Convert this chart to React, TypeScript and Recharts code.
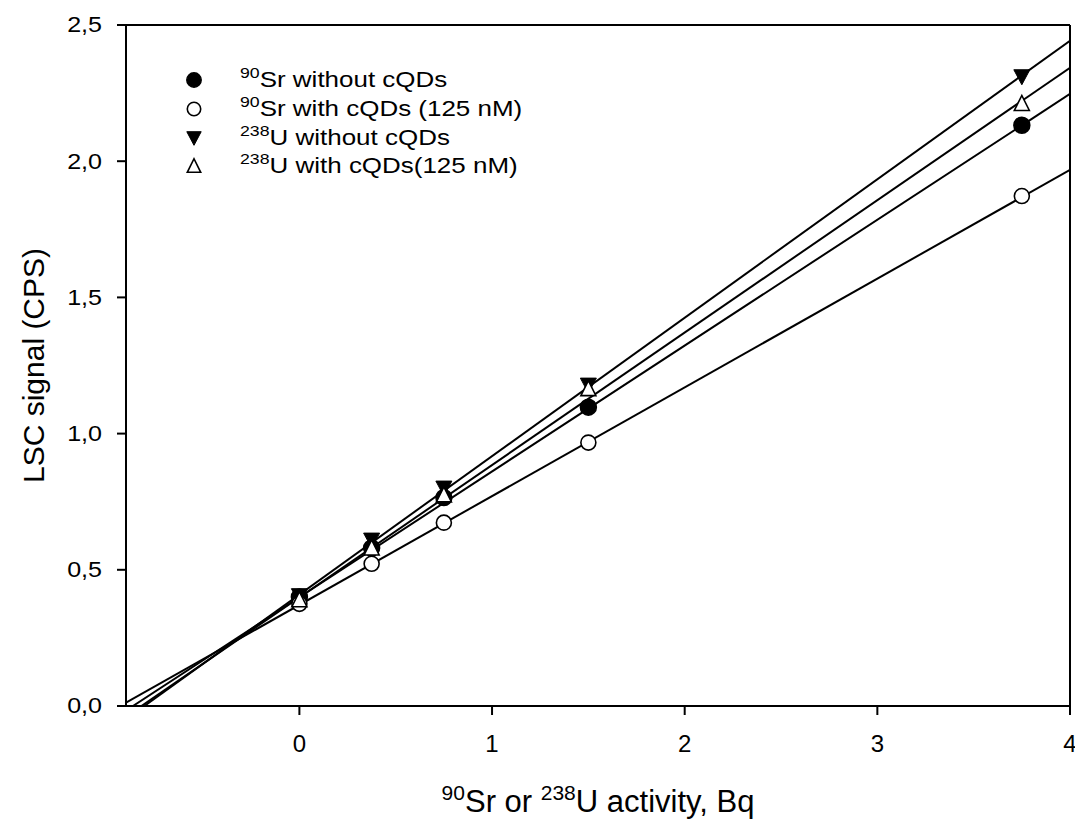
import React from "react";
import {
  ScatterChart,
  Scatter,
  XAxis,
  YAxis,
  ReferenceLine,
} from "recharts";

const FONT = "'Liberation Sans', Arial, sans-serif";

// Activities (Bq)
const activities = [0, 0.375, 0.75, 1.5, 3.75];
// LSC signal (CPS)
const srWithout = [0.4, 0.58, 0.765, 1.097, 2.132];
const srWith = [0.375, 0.522, 0.673, 0.967, 1.872];
const uWithout = [0.405, 0.609, 0.8, 1.178, 2.31];
const uWith = [0.39, 0.58, 0.775, 1.165, 2.212];

// Regression line end points
const srWithoutLineX = [-0.864, 4];
const srWithoutLineY = [0, 2.247];
const srWithLineX = [-0.9, 4];
const srWithLineY = [0.012, 1.968];
const uWithoutLineX = [-0.805, 4];
const uWithoutLineY = [0, 2.442];
const uWithLineX = [-0.82, 4];
const uWithLineY = [0, 2.343];

const xTicks = [0, 1, 2, 3, 4];
const yTicks = [0, 0.5, 1, 1.5, 2, 2.5];

const toPoints = (xs: number[], ys: number[]) =>
  xs.map((x, i) => ({ x, y: ys[i] }));

type Kind = "filledCircle" | "openCircle" | "filledDown" | "openUp";

const series: { key: string; sup: string; base: string; rest: string; kind: Kind; values: number[] }[] = [
  { key: "srWithout", sup: "90", base: "Sr", rest: " without cQDs", kind: "filledCircle", values: srWithout },
  { key: "srWith", sup: "90", base: "Sr", rest: " with cQDs (125 nM)", kind: "openCircle", values: srWith },
  { key: "uWithout", sup: "238", base: "U", rest: " without cQDs", kind: "filledDown", values: uWithout },
  { key: "uWith", sup: "238", base: "U", rest: " with cQDs(125 nM)", kind: "openUp", values: uWith },
];

const lines = [
  toPoints(srWithoutLineX, srWithoutLineY),
  toPoints(srWithLineX, srWithLineY),
  toPoints(uWithoutLineX, uWithoutLineY),
  toPoints(uWithLineX, uWithLineY),
];

function drawMarker(kind: Kind, cx: number, cy: number, s = 1) {
  const r = 8 * s;
  if (kind === "filledCircle")
    return <circle cx={cx} cy={cy} r={r} fill="#000" stroke="#000" strokeWidth={1.5} />;
  if (kind === "openCircle")
    return <circle cx={cx} cy={cy} r={r - 0.5} fill="#fff" stroke="#000" strokeWidth={1.6} />;
  if (kind === "filledDown") {
    const h = 7 * s;
    return (
      <polygon
        points={`${cx - r},${cy - h} ${cx + r},${cy - h} ${cx},${cy + h + 1}`}
        fill="#000"
        stroke="#000"
        strokeWidth={1}
      />
    );
  }
  const h = 7 * s;
  return (
    <polygon
      points={`${cx - r + 0.5},${cy + h} ${cx + r - 0.5},${cy + h} ${cx},${cy - h - 1}`}
      fill="#fff"
      stroke="#000"
      strokeWidth={1.6}
    />
  );
}

const makeShape = (kind: Kind) => (props: any) => {
  const { cx, cy } = props;
  if (cx == null || cy == null) return <g />;
  return drawMarker(kind, cx, cy);
};

const emptyShape = () => <g />;

const fmt = (v: number) => v.toFixed(1).replace(".", ",");

const YTick = (props: any) => {
  const { x, y, payload } = props;
  return (
    <text
      transform={`translate(${x},${y}) scale(1.14,1)`}
      textAnchor="end"
      dominantBaseline="central"
      fontFamily={FONT}
      fontSize={22}
      fill="#000"
    >
      {fmt(payload.value)}
    </text>
  );
};

const LegendBox = () => (
  <div
    style={{
      position: "absolute",
      top: 58,
      left: 172,
      fontFamily: FONT,
      color: "#000",
      pointerEvents: "none",
    }}
  >
    {series.map((s) => (
      <div
        key={s.key}
        style={{ display: "flex", alignItems: "center", height: 28.7, whiteSpace: "nowrap" }}
      >
        <svg width={30} height={24} style={{ marginRight: 30 }}>
          {drawMarker(s.kind, 14, 12, 0.9)}
        </svg>
        <span
          style={{
            fontSize: 22,
            display: "inline-block",
            transform: "scaleX(1.18)",
            transformOrigin: "left center",
          }}
        >
          <span style={{ fontSize: 15, position: "relative", top: -9 }}>{s.sup}</span>
          {s.base}
          {s.rest}
        </span>
      </div>
    ))}
  </div>
);

const XLabel = () => (
  <text x={590} y={804} textAnchor="middle" fontFamily={FONT} fontSize={31} fill="#000">
    <tspan fontSize={21} dy={-12}>90</tspan>
    <tspan dy={12}>Sr or </tspan>
    <tspan fontSize={21} dy={-12}>238</tspan>
    <tspan dy={12}>U activity, Bq</tspan>
  </text>
);

const YLabel = () => (
  <text
    transform="translate(36,357.5) rotate(-90)"
    textAnchor="middle"
    fontFamily={FONT}
    fontSize={30}
    fill="#000"
  >
    LSC signal (CPS)
  </text>
);

export default function App() {
  return (
    <div style={{ position: "relative", width: 1075, height: 819, background: "#fff" }}>
      <ScatterChart
        width={1075}
        height={819}
        margin={{ top: 17, right: 13, left: 0, bottom: 0 }}
      >
        <XAxis
          type="number"
          dataKey="x"
          domain={[-0.9, 4]}
          ticks={xTicks}
          allowDataOverflow
          height={121}
          tickSize={9}
          tickMargin={20}
          stroke="#000"
          axisLine={{ stroke: "#000", strokeWidth: 2 }}
          tickLine={{ stroke: "#000", strokeWidth: 2 }}
          tick={{ fill: "#000", fontSize: 24, fontFamily: FONT }}
          label={<XLabel />}
        />
        <YAxis
          type="number"
          dataKey="y"
          domain={[0, 2.5]}
          ticks={yTicks}
          allowDataOverflow
          width={118}
          tickSize={9}
          tickMargin={15}
          tickFormatter={fmt}
          stroke="#000"
          axisLine={{ stroke: "#000", strokeWidth: 2 }}
          tickLine={{ stroke: "#000", strokeWidth: 2 }}
          tick={<YTick />}
          label={<YLabel />}
        />
        <ReferenceLine y={2.5} stroke="#000" strokeWidth={2} />
        <ReferenceLine x={4} stroke="#000" strokeWidth={2} />
        {lines.map((d, i) => (
          <Scatter
            key={`line-${i}`}
            data={d}
            line={{ stroke: "#000", strokeWidth: 2 }}
            lineType="joint"
            shape={emptyShape}
            legendType="none"
            isAnimationActive={false}
          />
        ))}
        {series.map((s) => (
          <Scatter
            key={s.key}
            name={s.key}
            data={toPoints(activities, s.values)}
            shape={makeShape(s.kind)}
            isAnimationActive={false}
          />
        ))}
      </ScatterChart>
      <LegendBox />
    </div>
  );
}
